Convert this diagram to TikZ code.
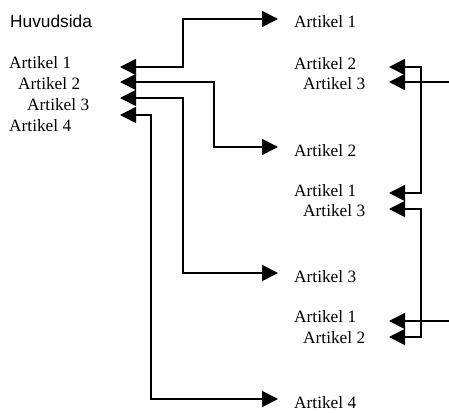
\documentclass[tikz,border=0pt]{standalone}
\usepackage{fontspec}
\setmainfont{Liberation Serif}
\newfontfamily\huvfont{Liberation Sans}
\usetikzlibrary{arrows.meta}
\tikzset{
  lbl/.style={anchor=base west, inner sep=0pt, font=\fontsize{17.3}{20}\selectfont},
  hlbl/.style={anchor=base west, inner sep=0pt, font=\huvfont\fontsize{17.3}{20}\selectfont},
  link/.style={line width=1.6pt, {Triangle[length=16pt,width=16pt]}-{Triangle[length=16pt,width=16pt]}},
  halflink/.style={line width=1.6pt, {Triangle[length=16pt,width=16pt]}-},
}
\begin{document}
\begin{tikzpicture}[x=1pt,y=-1pt]
\useasboundingbox (0,0) rectangle (449,412);
% left: main page
\node[hlbl] (huv) at (10,28) {Huvudsida};
\node[lbl] (m1) at (9,68) {Artikel 1};
\node[lbl] (m2) at (18,89) {Artikel 2};
\node[lbl] (m3) at (27,110) {Artikel 3};
\node[lbl] (m4) at (9,131) {Artikel 4};
% right: article pages
\node[lbl] (a1) at (294,28) {Artikel 1};
\node[lbl] (a1x2) at (294,69) {Artikel 2};
\node[lbl] (a1x3) at (303,89) {Artikel 3};
\node[lbl] (a2) at (294,156) {Artikel 2};
\node[lbl] (a2x1) at (294,196) {Artikel 1};
\node[lbl] (a2x3) at (303,216) {Artikel 3};
\node[lbl] (a3) at (294,282) {Artikel 3};
\node[lbl] (a3x1) at (294,322) {Artikel 1};
\node[lbl] (a3x2) at (303,343) {Artikel 2};
\node[lbl] (a4) at (294,408) {Artikel 4};
% arrow tip points
\coordinate (l1) at (120,67);
\coordinate (l2) at (120,82);
\coordinate (l3) at (120,98);
\coordinate (l4) at (120,115);
\coordinate (r1) at (278,19);
\coordinate (r2) at (278,147);
\coordinate (r3) at (278,273);
\coordinate (r4) at (278,399);
\coordinate (p12) at (389,67);
\coordinate (p13) at (389,82);
\coordinate (p21) at (389,193);
\coordinate (p23) at (389,209);
\coordinate (p31) at (389,321);
\coordinate (p32) at (389,337);
\coordinate (e13) at (449,82);
\coordinate (e31) at (449,321);
% main page links
\draw[link] (l1) -- ++(63,0) |- (r1);
\draw[link] (l2) -- ++(94,0) |- (r2);
\draw[link] (l3) -- ++(63,0) |- (r3);
\draw[link] (l4) -- ++(31,0) |- (r4);
% cross links between articles
\draw[link] (p12) -- ++(32,0) |- (p21);
\draw[link] (p23) -- ++(32,0) |- (p32);
\draw[halflink] (p13) -- (e13);
\draw[halflink] (p31) -- (e31);
\end{tikzpicture}
\end{document}
